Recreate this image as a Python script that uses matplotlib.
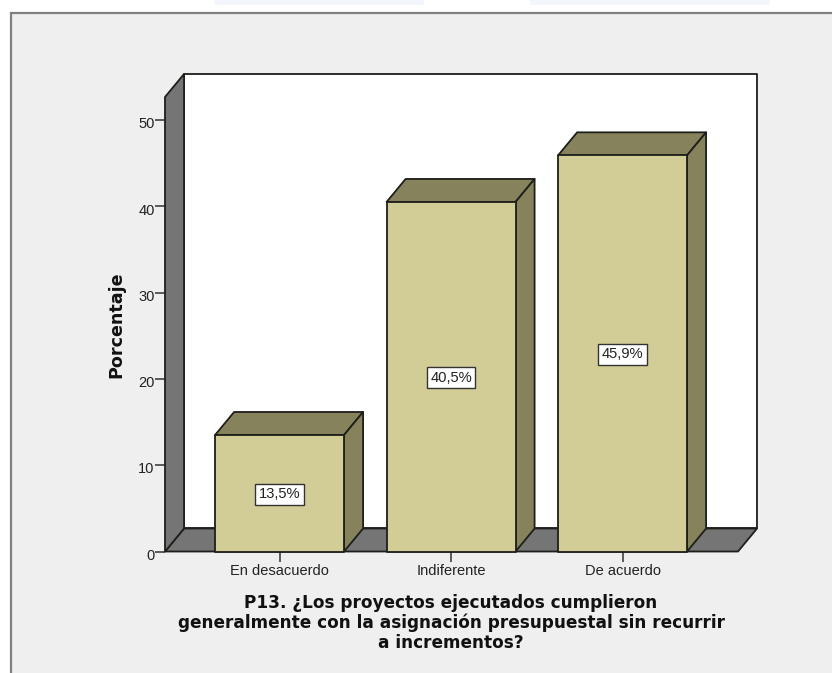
import matplotlib
matplotlib.use("Agg")
import matplotlib.pyplot as plt
from matplotlib.patches import Polygon, Rectangle
from matplotlib.transforms import ScaledTranslation

plt.rcParams["font.family"] = ["Liberation Sans", "DejaVu Sans"]

# Survey data
categories = ["En desacuerdo", "Indiferente", "De acuerdo"]
percentages = [13.5, 40.5, 45.9]
value_labels = ["13,5%", "40,5%", "45,9%"]
y_ticks = [0, 10, 20, 30, 40, 50]
y_title = "Porcentaje"
x_title = ("P13. ¿Los proyectos ejecutados cumplieron\n"
           "generalmente con la asignación presupuestal sin recurrir\n"
           "a incrementos?")

W, H = 832, 673
FRONT = "#D2CD96"
SHADE = "#86835C"
WALL = "#757575"
EDGE = "#1E1E1A"
PANEL = "#EFEFEF"
TEXT = "#222222"

fig = plt.figure(figsize=(W / 100, H / 100), dpi=100, facecolor="white")

# Window panel behind the chart, with its grey border on the top and left
bg = fig.add_axes([0, 0, 1, 1], zorder=0)
bg.set_xlim(0, W)
bg.set_ylim(H, 0)
bg.axis("off")
bg.add_patch(Rectangle((11, 13), W, H, fc=PANEL, ec="none"))
bg.plot([10.5, 10.5, W], [H, 13, 13], color="#808080", lw=1.6, solid_joinstyle="miter")
bg.add_patch(Rectangle((214, 0), 210, 5, fc="#F3F6FD", ec="none"))
bg.add_patch(Rectangle((530, 0), 240, 5, fc="#F3F6FD", ec="none"))

# Front plane of the plot box; depth offsets are given in data units
ax = fig.add_axes([165 / W, (H - 551.5) / H, 573 / W, 454.5 / H], zorder=1)
ax.set_xlim(-0.668, 2.673)
ax.set_ylim(0, 52.66)
ax.patch.set_alpha(0)
for side in ax.spines.values():
    side.set_visible(False)

dx, dy = 0.111, 2.665
x0, x1 = ax.get_xlim()
top = ax.get_ylim()[1]
bar_w = 0.752
lw = 1.3


def face(points, color, z):
    ax.add_patch(Polygon(points, closed=True, fc=color, ec=EDGE, lw=lw,
                         joinstyle="round", clip_on=False, zorder=z))


# Back wall, floor and left wall
face([(x0 + dx, dy), (x1 + dx, dy), (x1 + dx, top + dy), (x0 + dx, top + dy)], "white", 1)
face([(x0, 0), (x1, 0), (x1 + dx, dy), (x0 + dx, dy)], WALL, 2)
face([(x0, 0), (x0 + dx, dy), (x0 + dx, top + dy), (x0, top)], WALL, 2)

# Bars as three visible faces
for i, (value, label) in enumerate(zip(percentages, value_labels)):
    left, right = i - bar_w / 2, i + bar_w / 2
    face([(left, value), (right, value), (right + dx, value + dy), (left + dx, value + dy)], SHADE, 3)
    face([(right, 0), (right + dx, dy), (right + dx, value + dy), (right, value)], SHADE, 3)
    face([(left, 0), (right, 0), (right, value), (left, value)], FRONT, 4)
    ax.text(i, value / 2 - 0.1, label, ha="center", va="center", fontsize=10.6, color=TEXT, zorder=6,
            bbox=dict(boxstyle="square,pad=0.24", fc="white", ec="#333333", lw=1.0))

ax.set_xticks(range(len(categories)), categories)
ax.set_yticks(y_ticks)
ax.tick_params(axis="both", length=7, width=1.1, color="#333333", labelcolor=TEXT,
               labelsize=10.5, pad=0.5)
ax.tick_params(axis="x", pad=2)

# The value-axis numbers sit slightly below their tick marks
nudge = ScaledTranslation(0, -2 / 72, fig.dpi_scale_trans)
for tick_label in ax.get_yticklabels():
    tick_label.set_transform(tick_label.get_transform() + nudge)

fig.text(116 / W, 1 - 325 / H, y_title, rotation=90, ha="center", va="center",
         fontsize=12.6, fontweight="bold", color="#111111", family="DejaVu Sans")
fig.text(451 / W, 1 - 623 / H, x_title, ha="center", va="center", fontsize=12.2,
         fontweight="bold", color="#111111", linespacing=1.13, family="DejaVu Sans")

fig.savefig("out.png", dpi=100, facecolor="white")
